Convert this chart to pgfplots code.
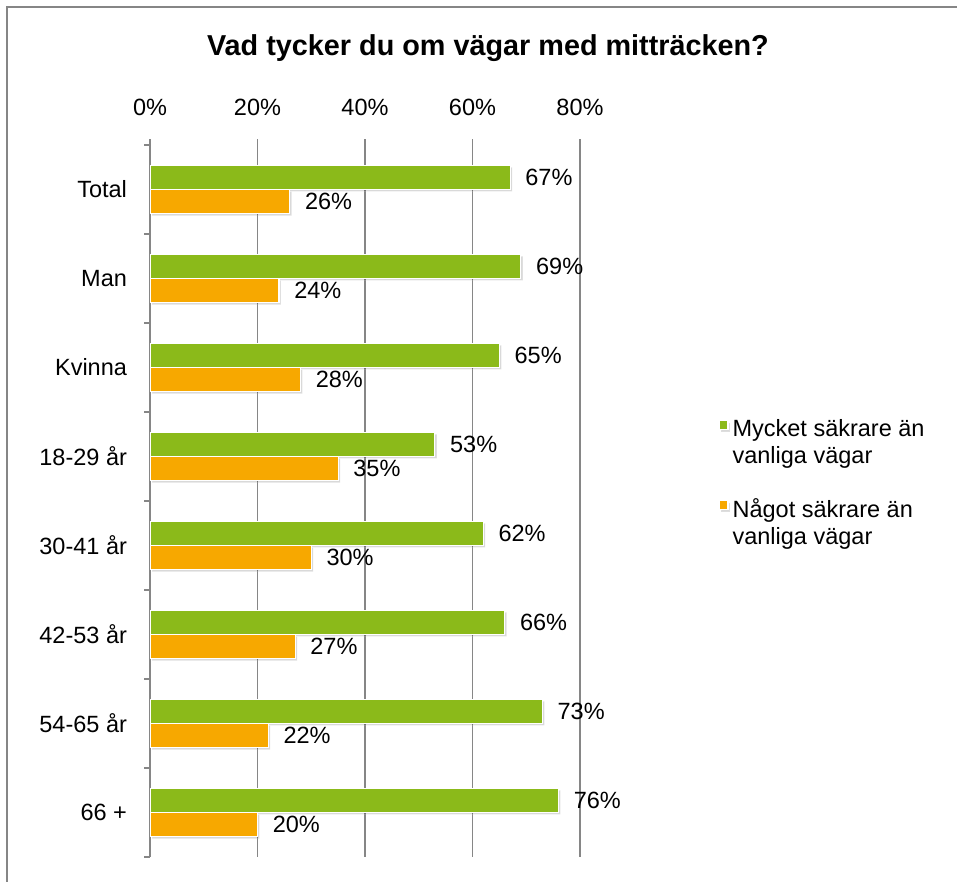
\documentclass[border=0pt]{standalone}
\usepackage{fontspec}
\setmainfont{Liberation Sans}
\usepackage{pgfplots}
\pgfplotsset{compat=1.18}
\definecolor{cgreen}{RGB}{139,186,26}
\definecolor{corange}{RGB}{247,168,0}
\definecolor{cgrid}{RGB}{134,134,134}
\begin{document}
\begin{tikzpicture}
\useasboundingbox (0,0) rectangle (478.5pt,-441pt);
\draw[cgrid, line width=1pt] (3.5pt,-441pt) -- (3.5pt,-3.5pt) -- (478.5pt,-3.5pt);
\node[anchor=base, font=\bfseries\fontsize{14.4}{17}\selectfont] at (244pt,-28pt) {Vad tycker du om vägar med mitträcken?};
\begin{axis}[
  at={(75pt,-72.5pt)}, anchor=north west,
  scale only axis, width=215pt, height=356pt,
  xbar, bar width=12pt,
  xmin=0, xmax=80, ymin=-0.5, ymax=7.5, y dir=reverse,
  axis x line*=top, axis y line*=left,
  x axis line style={draw=none},
  y axis line style={cgrid, line width=0.6pt},
  xtick={0,20,...,80},
  xticklabel={\pgfmathprintnumber{\tick}\%},
  /pgf/number format/assume math mode=true,
  xmajorgrids, major grid style={cgrid, line width=0.6pt},
  tick align=outside, major tick length=3pt,
  tick style={cgrid, line width=0.6pt},
  ytick={-0.5,0.5,...,7.5}, yticklabel={\mbox{}},
  extra y ticks={0,1,2,3,4,5,6,7},
  extra y tick labels={Total,Man,Kvinna,18-29 år,30-41 år,42-53 år,54-65 år,66 +},
  extra y tick style={major tick length=0pt, yticklabel style={xshift=-8pt}},
  tick label style={font=\fontsize{11.75}{13.5}\selectfont, text=black},
  xticklabel style={yshift=8pt},
  point meta=x,
  nodes near coords={\pgfmathprintnumber{\pgfplotspointmeta}\%},
  nodes near coords style={anchor=west, xshift=4pt, font=\fontsize{11.75}{13.5}\selectfont, text=black},
  legend style={draw=none, at={(1.307,0.626)}, anchor=north west,
    font=\fontsize{11.75}{13.5}\selectfont, row sep=12pt,
    cells={anchor=west}, nodes={align=left}},
  legend image code/.code={\fill[#1] (0pt,6.75pt) rectangle (4.5pt,11.25pt);},
]
\addplot[fill=cgreen, draw=white, line width=0.6pt, bar shift=6.1pt,
  preaction={fill=black, opacity=0.15, transform canvas={shift={(1pt,-1pt)}}}]
  coordinates {(67,0) (69,1) (65,2) (53,3) (62,4) (66,5) (73,6) (76,7)};
\addlegendentry{Mycket säkrare än\\vanliga vägar}
\addplot[fill=corange, draw=white, line width=0.6pt, bar shift=-6.1pt,
  preaction={fill=black, opacity=0.15, transform canvas={shift={(1pt,-1pt)}}}]
  coordinates {(26,0) (24,1) (28,2) (35,3) (30,4) (27,5) (22,6) (20,7)};
\addlegendentry{Något säkrare än\\vanliga vägar}
\end{axis}
\end{tikzpicture}
\end{document}
